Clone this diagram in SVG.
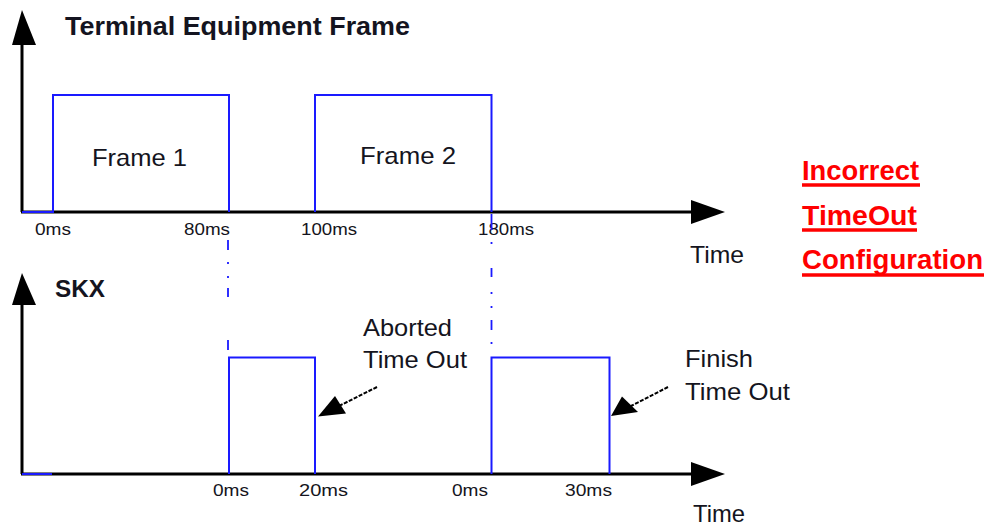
<svg xmlns="http://www.w3.org/2000/svg" width="992" height="526" viewBox="0 0 992 526">
  <style>
    .axis { stroke: #000; stroke-width: 3; fill: none; }
    .head { fill: #000; }
    .sig { stroke: #1a1aff; stroke-width: 2; fill: none; }
    .guide { stroke: #1a1aff; stroke-width: 1.8; fill: none; }
    .txt { font-family: "Liberation Sans", Arial, sans-serif; fill: #141420; }
    .tick { font-size: 17px; }
    .lbl { font-size: 24px; }
    .ttl { font-size: 25px; font-weight: bold; }
    .red { font-family: "Liberation Sans", Arial, sans-serif; font-size: 27px; font-weight: bold; fill: #ff0000; }
    .uline { stroke: #ff0000; stroke-width: 3.5; }
    .ptr { stroke: #000; stroke-width: 2; stroke-dasharray: 4 1.5; fill: none; }
  </style>

  <!-- upper trace: terminal equipment frames -->
  <g id="frame-axis">
    <line class="axis" x1="22" y1="212" x2="22" y2="42"/>
    <polygon class="head" points="22,10 12,45 36,45"/>
    <line class="axis" x1="21" y1="212" x2="693" y2="212"/>
    <polygon class="head" points="725,212 691,200 691,224"/>
    <text class="txt lbl" x="690" y="263" textLength="54" lengthAdjust="spacingAndGlyphs">Time</text>
  </g>
  <g id="frame-title">
    <text class="txt ttl" x="65" y="35" textLength="345" lengthAdjust="spacingAndGlyphs">Terminal Equipment Frame</text>
  </g>
  <g id="frame-signal">
    <polyline class="sig" points="22,212 53,212 53,95 229,95 229,212"/>
    <polyline class="sig" points="315,212 315,95 491.5,95 491.5,212"/>
  </g>
  <g id="frame-1">
    <text class="txt lbl" x="92" y="166" textLength="95" lengthAdjust="spacingAndGlyphs">Frame 1</text>
  </g>
  <g id="frame-2">
    <text class="txt lbl" x="360" y="164" textLength="96" lengthAdjust="spacingAndGlyphs">Frame 2</text>
  </g>
  <g id="frame-ticks">
    <text class="txt tick" x="35" y="235" textLength="36" lengthAdjust="spacingAndGlyphs">0ms</text>
    <text class="txt tick" x="184" y="235" textLength="46" lengthAdjust="spacingAndGlyphs">80ms</text>
    <text class="txt tick" x="301" y="235" textLength="56" lengthAdjust="spacingAndGlyphs">100ms</text>
    <text class="txt tick" x="478" y="235" textLength="56" lengthAdjust="spacingAndGlyphs">180ms</text>
  </g>

  <!-- dash-dot guides from frame ends down to the timer starts -->
  <g id="guides">
    <path class="guide" d="M228,240 V250 M228,262 V264 M228,276 V278 M228,288 V297 M228,340 V350"/>
    <path class="guide" d="M491.5,214 V230 M491.5,242 V244 M491.5,268 V277 M491.5,292 V294 M491.5,306 V308 M491.5,320 V330 M491.5,342 V344"/>
  </g>

  <!-- lower trace: SKX timeout -->
  <g id="skx-axis">
    <line class="axis" x1="22" y1="474" x2="22" y2="302"/>
    <polygon class="head" points="22,273 12,305 36,305"/>
    <line class="axis" x1="21" y1="474" x2="693" y2="474"/>
    <polygon class="head" points="725,474 691,462 691,486"/>
    <text class="txt lbl" x="693" y="522" textLength="52" lengthAdjust="spacingAndGlyphs">Time</text>
  </g>
  <g id="skx-title">
    <text class="txt" x="55" y="297" font-size="24" font-weight="bold" textLength="50" lengthAdjust="spacingAndGlyphs">SKX</text>
  </g>
  <g id="skx-signal">
    <line class="sig" x1="22" y1="474" x2="52" y2="474"/>
    <polyline class="sig" points="229,474 229,357.5 315,357.5 315,474"/>
    <polyline class="sig" points="491.5,474 491.5,357.5 609.5,357.5 609.5,474"/>
  </g>
  <g id="skx-ticks">
    <text class="txt tick" x="213" y="496" textLength="36" lengthAdjust="spacingAndGlyphs">0ms</text>
    <text class="txt tick" x="299" y="496" textLength="49" lengthAdjust="spacingAndGlyphs">20ms</text>
    <text class="txt tick" x="452" y="496" textLength="36" lengthAdjust="spacingAndGlyphs">0ms</text>
    <text class="txt tick" x="565" y="496" textLength="47" lengthAdjust="spacingAndGlyphs">30ms</text>
  </g>

  <!-- callouts -->
  <g id="aborted-note">
    <text class="txt lbl" x="363" y="336" textLength="89" lengthAdjust="spacingAndGlyphs">Aborted</text>
    <text class="txt lbl" x="363" y="368" textLength="104" lengthAdjust="spacingAndGlyphs">Time Out</text>
  </g>
  <g id="finish-note">
    <text class="txt lbl" x="685" y="367" textLength="68" lengthAdjust="spacingAndGlyphs">Finish</text>
    <text class="txt lbl" x="685" y="400" textLength="105" lengthAdjust="spacingAndGlyphs">Time Out</text>
  </g>
  <g id="connectors">
    <line class="ptr" x1="377" y1="387" x2="338" y2="406.5"/>
    <polygon class="head" points="318,416.5 346,413.5 335,396"/>
    <line class="ptr" x1="668" y1="387" x2="631" y2="406"/>
    <polygon class="head" points="611,416 638,412 622,396.5"/>
  </g>

  <!-- red heading on the right -->
  <g id="heading">
    <text class="red" x="802" y="180" textLength="117" lengthAdjust="spacingAndGlyphs">Incorrect</text>
    <line class="uline" x1="802" y1="185" x2="920" y2="185"/>
    <text class="red" x="802" y="225" textLength="115" lengthAdjust="spacingAndGlyphs">TimeOut</text>
    <line class="uline" x1="802" y1="230" x2="917" y2="230"/>
    <text class="red" x="802" y="269" textLength="181" lengthAdjust="spacingAndGlyphs">Configuration</text>
    <line class="uline" x1="802" y1="275" x2="984" y2="275"/>
  </g>
</svg>
